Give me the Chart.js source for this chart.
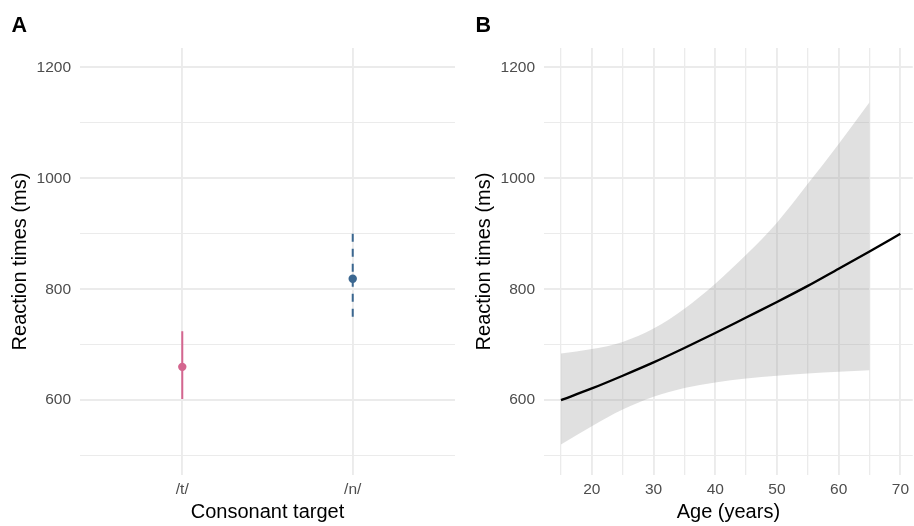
<!DOCTYPE html>
<html lang="en">
<head>
<meta charset="UTF-8">
<title>Reaction times</title>
<script src="https://cdn.jsdelivr.net/npm/chart.js@4.4.9/dist/chart.umd.js"></script>
<style>
  html, body { margin: 0; padding: 0; background: #fff; }
  body { width: 914px; height: 526px; position: relative; overflow: hidden; }
  .panel { position: absolute; top: 0; height: 526px; }
  #panel-a { left: 0; width: 460px; }
  #panel-b { left: 464px; width: 450px; }
</style>
</head>
<body>
<div class="panel" id="panel-a"><canvas id="chart-a"></canvas></div>
<div class="panel" id="panel-b"><canvas id="chart-b"></canvas></div>
<script>
// Panel A: mean reaction time by consonant target, with intervals
const consonants = ['/t/', '/n/'];
const rtMean = [660, 819];
const rtLow = [602, 744];
const rtHigh = [724, 900];

// Panel B: fitted reaction time by age, with confidence band
const ages = [15, 20, 25, 30, 35, 40, 45, 50, 55, 60, 65, 70];
const rtFit = [600, 621, 644, 668, 694, 721, 749, 777, 806, 837, 868, 900];
const bandAges = [15, 20, 25, 30, 35, 40, 45, 50, 55, 60, 65];
const bandUpper = [684, 692, 705, 729, 765, 810, 862, 920, 990, 1062, 1137];
const bandLower = [520, 553, 583, 606, 622, 632, 639, 644, 648, 651, 654];

const yTicks = [500, 600, 700, 800, 900, 1000, 1100, 1200];
const ageTicks = [15, 20, 25, 30, 35, 40, 45, 50, 55, 60, 65, 70];

const FONT = "'Liberation Sans', Arial, sans-serif";
const GRID = '#ebebeb';
const TICK_COL = '#4d4d4d';
const PINK = '#d4668f';
const BLUE = '#3b6790';

Chart.defaults.font.family = FONT;
Chart.defaults.animation = false;

// panel letter in the top-left corner
const panelTag = {
  id: 'panelTag',
  afterDraw(chart, args, opts) {
    const ctx = chart.ctx;
    ctx.save();
    ctx.font = 'bold 21.5px ' + FONT;
    ctx.fillStyle = '#000';
    ctx.textBaseline = 'alphabetic';
    ctx.fillText(opts.text, 11.5, 32.3);
    ctx.restore();
  }
};

function yScale() {
  return {
    type: 'linear',
    min: 465,
    max: 1235,
    afterBuildTicks: s => { s.ticks = yTicks.map(v => ({ value: v })); },
    afterFit: s => { s.width = 80; },
    border: { display: false },
    grid: {
      color: GRID,
      drawTicks: false,
      lineWidth: c => (c.tick && c.tick.value % 200 === 0) ? 1.9 : 1.1
    },
    ticks: {
      padding: 9,
      color: TICK_COL,
      font: { size: 15.5 },
      callback: v => (v % 200 === 0 ? String(v) : '')
    },
    title: {
      display: true,
      text: 'Reaction times (ms)',
      color: '#000',
      font: { size: 20 },
      padding: { top: 8, bottom: 0 }
    }
  };
}

function xTitle(text) {
  return {
    display: true,
    text: text,
    color: '#000',
    font: { size: 20 },
    padding: { top: 0, bottom: 2 }
  };
}

// ---------- Panel A ----------
const pointsA = consonants.map((c, i) => ({ x: i + 1, y: rtMean[i] }));
const barsA = consonants.map((c, i) => [{ x: i + 1, y: rtHigh[i] }, { x: i + 1, y: rtLow[i] }]);

new Chart(document.getElementById('chart-a'), {
  type: 'line',
  data: {
    datasets: [
      {
        data: pointsA,
        showLine: false,
        pointRadius: 4.2,
        pointHoverRadius: 4.2,
        pointBorderWidth: 0,
        pointBackgroundColor: [PINK, BLUE]
      },
      {
        data: barsA[0],
        borderColor: PINK,
        borderWidth: 2,
        pointRadius: 0
      },
      {
        data: barsA[1],
        borderColor: BLUE,
        borderWidth: 2,
        borderDash: [8, 7],
        pointRadius: 0
      }
    ]
  },
  options: {
    responsive: true,
    maintainAspectRatio: false,
    layout: { padding: { top: 48, right: 5, left: 0, bottom: 0 } },
    plugins: {
      legend: { display: false },
      tooltip: { enabled: false },
      panelTag: { text: 'A' }
    },
    scales: {
      x: {
        type: 'linear',
        min: 0.4,
        max: 2.6,
        afterBuildTicks: s => { s.ticks = consonants.map((c, i) => ({ value: i + 1 })); },
        afterFit: s => { s.height = 51; },
        border: { display: false },
        grid: { color: GRID, drawTicks: false, lineWidth: 1.9 },
        ticks: {
          padding: 5,
          color: TICK_COL,
          font: { size: 15.5 },
          maxRotation: 0,
          callback: v => consonants[v - 1] || ''
        },
        title: xTitle('Consonant target')
      },
      y: yScale()
    }
  },
  plugins: [panelTag]
});

// ---------- Panel B ----------
new Chart(document.getElementById('chart-b'), {
  type: 'line',
  data: {
    datasets: [
      {
        data: ages.map((a, i) => ({ x: a, y: rtFit[i] })),
        borderColor: '#000',
        borderWidth: 2.4,
        pointRadius: 0,
        cubicInterpolationMode: 'monotone'
      },
      {
        data: bandAges.map((a, i) => ({ x: a, y: bandUpper[i] })),
        borderWidth: 0,
        pointRadius: 0,
        backgroundColor: 'rgba(153,153,153,0.3)',
        fill: '+1',
        cubicInterpolationMode: 'monotone'
      },
      {
        data: bandAges.map((a, i) => ({ x: a, y: bandLower[i] })),
        borderWidth: 0,
        pointRadius: 0,
        fill: false,
        cubicInterpolationMode: 'monotone'
      }
    ]
  },
  options: {
    responsive: true,
    maintainAspectRatio: false,
    layout: { padding: { top: 48, right: 0, left: 0, bottom: 0 } },
    plugins: {
      legend: { display: false },
      tooltip: { enabled: false },
      panelTag: { text: 'B' }
    },
    scales: {
      x: {
        type: 'linear',
        min: 12.25,
        max: 72,
        afterBuildTicks: s => { s.ticks = ageTicks.map(v => ({ value: v })); },
        afterFit: s => { s.height = 51; },
        border: { display: false },
        grid: {
          color: GRID,
          drawTicks: false,
          lineWidth: c => (c.tick && c.tick.value % 10 === 0) ? 1.9 : 1.3
        },
        ticks: {
          padding: 5,
          color: TICK_COL,
          font: { size: 15.5 },
          maxRotation: 0,
          autoSkip: false,
          callback: v => (v % 10 === 0 ? String(v) : '')
        },
        title: xTitle('Age (years)')
      },
      y: yScale()
    }
  },
  plugins: [panelTag]
});
</script>
</body>
</html>
